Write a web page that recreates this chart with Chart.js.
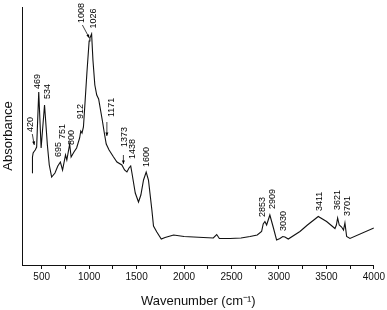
<!DOCTYPE html>
<html>
<head>
<meta charset="utf-8">
<title>FTIR spectrum</title>
<script src="https://cdn.jsdelivr.net/npm/chart.js@4.4.1/dist/chart.umd.min.js"></script>
<style>
  html, body { margin: 0; padding: 0; background: #fff; }
  #wrap { width: 387px; height: 310px; }
</style>
</head>
<body>
<div id="wrap"><canvas id="spectrum" width="387" height="310"></canvas></div>
<script>
// ───────── spectrum data ─────────
const wavenumbers = [
  402, 403, 410, 420, 432, 447, 469, 494, 530, 560, 580, 605, 640, 670, 697, 720,
  751, 765, 795, 810, 840, 868, 900, 912, 925, 940, 955, 977, 1000, 1008, 1026,
  1040, 1060, 1080, 1100, 1120, 1140, 1160, 1180, 1210, 1257, 1293, 1345, 1373,
  1398, 1420, 1438, 1451, 1486, 1520, 1545, 1573, 1601, 1625, 1661, 1678, 1713,
  1760, 1800, 1890, 2000, 2203, 2308, 2344, 2372, 2484, 2600, 2695, 2771, 2817,
  2834, 2852, 2870, 2904, 2939, 2975, 3010, 3040, 3063, 3098, 3221, 3300, 3414,
  3502, 3590, 3605, 3618, 3635, 3660, 3680, 3695, 3713, 3748, 4000
];
const absorbance = [
  0.92, 1.08, 1.12, 1.135, 1.15, 1.18, 1.73, 1.17, 1.60, 1.20, 1.00, 0.88, 0.92, 0.99, 1.03, 0.95,
  1.10, 1.05, 1.21, 1.08, 1.13, 1.17, 1.27, 1.34, 1.32, 1.38, 1.60, 1.93, 2.24, 2.27, 2.31,
  2.05, 1.80, 1.70, 1.66, 1.55, 1.44, 1.32, 1.21, 1.15, 1.08, 1.03, 1.00, 0.95,
  0.93, 0.97, 0.99, 0.92, 0.72, 0.63, 0.70, 0.85, 0.93, 0.85, 0.55, 0.39, 0.33,
  0.26, 0.275, 0.30, 0.285, 0.275, 0.27, 0.305, 0.265, 0.265, 0.27, 0.285, 0.30, 0.335,
  0.41, 0.435, 0.40, 0.50, 0.38, 0.25, 0.265, 0.285, 0.28, 0.26, 0.335, 0.40, 0.485,
  0.435, 0.365, 0.40, 0.47, 0.40, 0.38, 0.35, 0.42, 0.285, 0.265, 0.37
];

// x-axis ticks: labelled every 500, unlabelled marks in between
const xMajorTicks = [500, 1000, 1500, 2000, 2500, 3000, 3500, 4000];
const xMinorTicks = [750, 1250, 1750, 2250, 2750, 3250, 3750];

// band assignments written above the peaks (text, anchor wavenumber, anchor absorbance)
const peakLabels = ['420', '469', '534', '695', '751', '800', '912', '1008', '1026', '1171',
  '1373', '1438', '1600', '2853', '2909', '3030', '3411', '3621', '3701'];
const peakLabelX = [384, 458, 559, 675, 720, 812, 908, 917, 1050, 1240,
  1371, 1457, 1605, 2823, 2929, 3050, 3428, 3621, 3726];
const peakLabelY = [1.33, 1.76, 1.66, 1.08, 1.26, 1.20, 1.46, 2.42, 2.365, 1.48,
  1.18, 1.06, 0.98, 0.48, 0.56, 0.34, 0.54, 0.55, 0.49];

// little pointer arrows (from -> to)
const arrowFromX = [401, 929, 1187, 1361];
const arrowFromY = [1.31, 2.40, 1.43, 1.10];
const arrowToX = [422, 1002, 1187, 1361];
const arrowToY = [1.20, 2.27, 1.29, 1.01];

const FONT = '"Liberation Sans", Arial, sans-serif';

// ─ peak label + arrow plugin
const peakLabelPlugin = {
  id: 'peakLabels',
  afterDatasetsDraw(chart) {
    const { ctx, scales: { x, y } } = chart;
    ctx.save();
    ctx.fillStyle = '#000';
    ctx.strokeStyle = '#111';
    ctx.font = '9px ' + FONT;
    peakLabels.forEach((txt, i) => {
      const px = x.getPixelForValue(peakLabelX[i]);
      const py = y.getPixelForValue(peakLabelY[i]);
      ctx.save();
      ctx.translate(px, py);
      ctx.rotate(-Math.PI / 2);
      ctx.textAlign = 'left';
      ctx.textBaseline = 'middle';
      ctx.fillText(txt, 0, 0);
      ctx.restore();
    });

    ctx.lineWidth = 0.8;
    arrowFromX.forEach((fx, i) => {
      const x1 = x.getPixelForValue(fx), y1 = y.getPixelForValue(arrowFromY[i]);
      const x2 = x.getPixelForValue(arrowToX[i]), y2 = y.getPixelForValue(arrowToY[i]);
      const ang = Math.atan2(y2 - y1, x2 - x1);
      ctx.beginPath();
      ctx.moveTo(x1, y1);
      ctx.lineTo(x2, y2);
      ctx.stroke();
      ctx.beginPath();
      ctx.moveTo(x2, y2);
      ctx.lineTo(x2 - 3.5 * Math.cos(ang) + 1.5 * Math.sin(ang), y2 - 3.5 * Math.sin(ang) - 1.5 * Math.cos(ang));
      ctx.lineTo(x2 - 3.5 * Math.cos(ang) - 1.5 * Math.sin(ang), y2 - 3.5 * Math.sin(ang) + 1.5 * Math.cos(ang));
      ctx.closePath();
      ctx.fill();
    });
    ctx.restore();
  }
};

// ─ chart
function initSpectrum() {
  const ctx = document.getElementById('spectrum').getContext('2d');
  const points = wavenumbers.map((w, i) => ({ x: w, y: absorbance[i] }));
  const allTicks = [...xMajorTicks, ...xMinorTicks].sort((a, b) => a - b);

  new Chart(ctx, {
    type: 'line',
    data: {
      datasets: [{
        data: points,
        borderColor: '#111',
        borderWidth: 1.1,
        pointRadius: 0,
        tension: 0,
        fill: false
      }]
    },
    options: {
      responsive: false,
      animation: false,
      devicePixelRatio: 1,
      layout: { padding: { top: 7, right: 12.7, left: 0, bottom: 0 } },
      plugins: { legend: { display: false }, tooltip: { enabled: false } },
      scales: {
        x: {
          type: 'linear',
          min: 300,
          max: 4000,
          afterBuildTicks: scale => { scale.ticks = allTicks.map(v => ({ value: v })); },
          afterFit: scale => { scale.height = 45; },
          ticks: {
            autoSkip: false,
            maxRotation: 0,
            color: '#111',
            padding: 2,
            font: { family: FONT, size: 10 },
            callback: v => (xMajorTicks.includes(v) ? String(v) : '')
          },
          grid: { display: true, drawOnChartArea: false, drawTicks: true, tickLength: 4, color: '#111', lineWidth: 1 },
          border: { display: true, color: '#111', width: 1 },
          title: {
            display: true,
            text: 'Wavenumber (cm⁻¹)',
            color: '#111',
            font: { family: FONT, size: 13 },
            padding: { top: 0, bottom: 1 }
          }
        },
        y: {
          min: 0,
          max: 2.58,
          afterFit: scale => { scale.width = 22.7; },
          ticks: { display: false },
          grid: { display: false },
          border: { display: true, color: '#111', width: 1 },
          title: {
            display: true,
            text: 'Absorbance',
            color: '#111',
            font: { family: FONT, size: 13 },
            padding: { top: 1, bottom: 0 }
          }
        }
      }
    },
    plugins: [peakLabelPlugin]
  });
}

document.addEventListener('DOMContentLoaded', initSpectrum);
</script>
</body>
</html>
